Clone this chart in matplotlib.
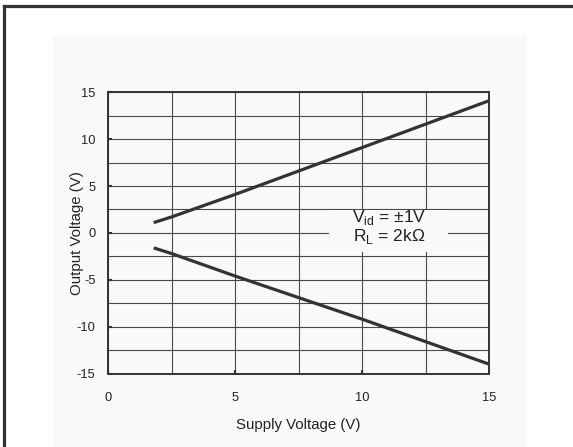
import matplotlib
matplotlib.use("Agg")
import matplotlib.pyplot as plt
from matplotlib.lines import Line2D
from matplotlib.patches import Rectangle
from matplotlib.ticker import MultipleLocator

plt.rcParams['font.family'] = ['Liberation Sans', 'DejaVu Sans']
plt.rcParams['axes.unicode_minus'] = False

# supply voltage vs. output swing
supply = [1.8, 2.5, 5, 7.5, 10, 12.5, 15]
vout_high = [1.1, 1.7, 4.1, 6.6, 9.1, 11.6, 14.1]
vout_low = [-1.6, -2.2, -4.6, -6.9, -9.2, -11.6, -14.0]

x_ticks = [0, 5, 10, 15]
y_ticks = [-15, -10, -5, 0, 5, 10, 15]

ink = '#333333'
txt = '#222222'
panel = '#f9f9f8'

fig = plt.figure(figsize=(5.73, 4.47), dpi=100)
fig.patch.set_facecolor('white')

# shaded panel behind the plot
fig.patches.append(Rectangle((53 / 573, 0), 474 / 573, 412 / 447,
                             transform=fig.transFigure, facecolor=panel,
                             edgecolor='none', zorder=-5))
# frame lines (left and top)
fig.lines.append(Line2D([4 / 573, 4 / 573], [0, 1 - 6 / 447],
                        transform=fig.transFigure, color=ink, lw=2.3, zorder=-4))
fig.lines.append(Line2D([4 / 573, 1], [1 - 6 / 447, 1 - 6 / 447],
                        transform=fig.transFigure, color=ink, lw=2.3, zorder=-4))

ax = fig.add_axes([108 / 573, 73.5 / 447, 381 / 573, 281.2 / 447])
ax.set_facecolor(panel)
ax.set_xlim(0, 15)
ax.set_ylim(-15, 15)
ax.set_xticks(x_ticks)
ax.set_yticks(y_ticks)
ax.xaxis.set_minor_locator(MultipleLocator(2.5))
ax.yaxis.set_minor_locator(MultipleLocator(2.5))
ax.grid(True, which='both', color='#4a4a4a', lw=0.8)
ax.tick_params(which='major', direction='in', length=3, width=1.5,
               color=ink, labelsize=9.3, labelcolor=txt)
ax.tick_params(axis='x', pad=13)
ax.tick_params(axis='y', pad=9)
ax.tick_params(which='minor', length=0)
for s in ax.spines.values():
    s.set_color(ink)
    s.set_linewidth(1.4)

ax.plot(supply, vout_high, color=ink, lw=2.3, solid_capstyle='butt', zorder=3)
ax.plot(supply, vout_low, color=ink, lw=2.3, solid_capstyle='butt', zorder=3)

# blank patch under the condition note
ax.add_patch(Rectangle((221 / 381, 121.5 / 281.2), 119 / 381, 42 / 281.2,
                       transform=ax.transAxes, facecolor=panel,
                       edgecolor='none', zorder=2.5))
ax.text(0.737, 0.521, 'V$_\\mathregular{id}$ = ±1V\nR$_\\mathregular{L}$ = 2kΩ',
        transform=ax.transAxes, ha='center', va='center', fontsize=12.5,
        color=txt, linespacing=1.0, zorder=4)

ax.set_xlabel('Supply Voltage (V)', fontsize=10.8, color=txt, va='center')
ax.set_ylabel('Output Voltage (V)', fontsize=10.8, color=txt, va='center')
ax.xaxis.set_label_coords(0.5, -51 / 281.2)
ax.yaxis.set_label_coords(-31 / 381, 0.5)

fig.savefig('out.png', dpi=100)
